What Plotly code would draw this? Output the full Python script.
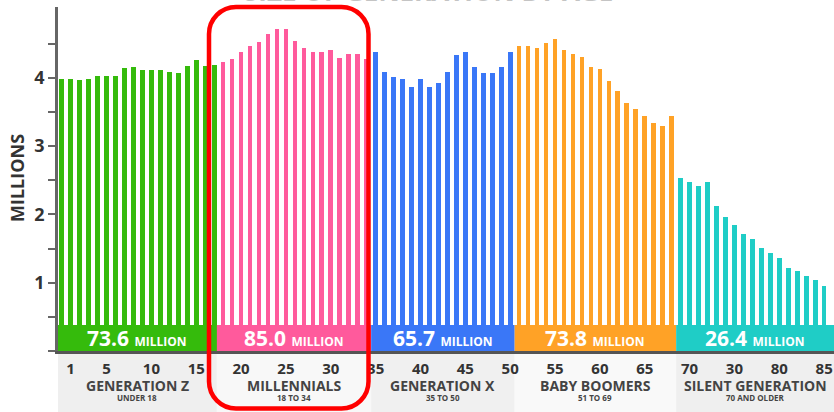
import plotly.graph_objects as go

# ---------------- data ----------------
gen_names = ["GENERATION Z", "MILLENNIALS", "GENERATION X", "BABY BOOMERS", "SILENT GENERATION"]
gen_sub = ["UNDER 18", "18 TO 34", "35 TO 50", "51 TO 69", "70 AND OLDER"]
gen_totals = ["73.6", "85.0", "65.7", "73.8", "26.4"]
gen_colors = ["#35bb0c", "#ff5a9c", "#3a77f7", "#ffa226", "#1fcdc6"]
gen_start_age = [0, 18, 35, 51, 69]

genz = [3.98, 3.98, 3.97, 3.98, 4.02, 4.02, 4.03, 4.14, 4.16, 4.12, 4.12, 4.12, 4.09, 4.07, 4.17, 4.26, 4.17, 4.19]
millennials = [4.23, 4.27, 4.38, 4.46, 4.52, 4.64, 4.72, 4.72, 4.54, 4.43, 4.38, 4.38, 4.41, 4.29, 4.35, 4.35, 4.27]
genx = [4.38, 4.09, 4.01, 3.98, 3.86, 3.98, 3.86, 3.92, 4.09, 4.34, 4.38, 4.16, 4.07, 4.07, 4.16, 4.38]
boomers = [4.47, 4.47, 4.43, 4.51, 4.57, 4.40, 4.35, 4.31, 4.16, 4.13, 3.96, 3.80, 3.63, 3.54, 3.44, 3.34, 3.29, 3.44]
silent = [2.54, 2.47, 2.42, 2.47, 2.13, 1.96, 1.85, 1.72, 1.64, 1.51, 1.44, 1.36, 1.22, 1.17, 1.10, 1.04, 0.95]
series = [genz, millennials, genx, boomers, silent]

x_tickvals = [1, 5, 10, 15, 20, 25, 30, 35, 40, 45, 50, 55, 60, 65, 70, 75, 80, 85]
x_ticktext = ["1", "5", "10", "15", "20", "25", "30", "35", "40", "45", "50", "55", "60", "65", "70", "30", "80", "85"]
y_tickvals = [0, 1, 2, 3, 4]
y_ticktext = ["", "1", "2", "3", "4"]
y_minor = [0.5, 1.5, 2.5, 3.5, 4.5]

# ---------------- layout constants ----------------
W, H = 834, 412
ML, MR, MT, MB = 58, 0, 7, 61
XR = [-0.41, 86.1]
YR = [0, 5.036]
FONT = "Open Sans"
band_top = 0.38

def X(px):
    return (px - ML) / (W - ML - MR)

def Y(py):
    return (H - MB - py) / (H - MT - MB)

fig = go.Figure()
bounds = []
for i, vals in enumerate(series):
    a0 = gen_start_age[i]
    ages = list(range(a0, a0 + len(vals)))
    fig.add_trace(go.Bar(x=ages, y=vals, marker=dict(color=gen_colors[i], line=dict(width=0)),
                         width=0.52, showlegend=False, hoverinfo="x+y"))
    lo = XR[0] if i == 0 else a0 - 0.5
    hi = XR[1] if i == len(series) - 1 else a0 + len(vals) - 0.5
    if i == 1:
        lo = a0 - 0.7
    if i == 0:
        hi = a0 + len(vals) - 0.7
    bounds.append((lo, hi))

shapes = []
annotations = []
grays = ["#efefef", "#f8f8f8", "#f0f0f0", "#f9f9f9", "#efefef"]
for i, (lo, hi) in enumerate(bounds):
    # gray label block below axis
    shapes.append(dict(type="rect", xref="x", yref="paper", x0=lo, x1=hi, y0=Y(H + 2), y1=Y(353),
                       fillcolor=grays[i], line=dict(width=0), layer="below"))
    # coloured total band
    shapes.append(dict(type="rect", xref="x", yref="y", x0=lo, x1=hi, y0=0, y1=band_top,
                       fillcolor=gen_colors[i], line=dict(width=0), layer="above"))
    cx = (lo + hi) / 2
    annotations.append(dict(x=cx, y=band_top / 2, xref="x", yref="y", showarrow=False,
                            text=f"{gen_totals[i]} <span style='font-size:12px'>MILLION</span>",
                            font=dict(family=FONT, size=21, color="white", weight="bold"),
                            xanchor="center", yanchor="middle"))
    annotations.append(dict(x=cx, y=Y(385), xref="x", yref="paper", showarrow=False,
                            text=gen_names[i], font=dict(family=FONT, size=14, color="#444", weight="bold"),
                            xanchor="center", yanchor="middle", borderpad=0))
    annotations.append(dict(x=cx, y=Y(397.5), xref="x", yref="paper", showarrow=False,
                            text=gen_sub[i], font=dict(family=FONT, size=8, color="#444", weight="bold"),
                            xanchor="center", yanchor="middle", borderpad=0))

# y title
annotations.append(dict(x=X(17), y=Y(178), xref="paper", yref="paper", showarrow=False, text="MILLIONS",
                        textangle=-90, font=dict(family=FONT, size=18, color="#333", weight="bold"),
                        xanchor="center", yanchor="middle"))
# title, mostly above the visible area as in the reference
annotations.append(dict(x=X(428), y=Y(-9), xref="paper", yref="paper", showarrow=False,
                        text="SIZE OF GENERATION BY AGE",
                        font=dict(family=FONT, size=26, color="#c4c4c4", weight="bold"),
                        xanchor="center", yanchor="middle"))

# red rounded highlight box (pixel geometry -> paper)
L, R, T, B, r = 209, 368.5, 7, 408.5, 27
k = 0.552 * r
pts = [
    f"M {X(L + r)},{Y(T)}", f"L {X(R - r)},{Y(T)}",
    f"C {X(R - r + k)},{Y(T)} {X(R)},{Y(T + r - k)} {X(R)},{Y(T + r)}",
    f"L {X(R)},{Y(B - r)}",
    f"C {X(R)},{Y(B - r + k)} {X(R - r + k)},{Y(B)} {X(R - r)},{Y(B)}",
    f"L {X(L + r)},{Y(B)}",
    f"C {X(L + r - k)},{Y(B)} {X(L)},{Y(B - r + k)} {X(L)},{Y(B - r)}",
    f"L {X(L)},{Y(T + r)}",
    f"C {X(L)},{Y(T + r - k)} {X(L + r - k)},{Y(T)} {X(L + r)},{Y(T)}", "Z",
]
shapes.append(dict(type="path", xref="paper", yref="paper", path=" ".join(pts),
                   line=dict(color="#ff0000", width=4.5), fillcolor="rgba(0,0,0,0)", layer="above"))

fig.update_layout(
    width=W, height=H, margin=dict(l=ML, r=MR, t=MT, b=MB, pad=0),
    paper_bgcolor="white", plot_bgcolor="white", bargap=0,
    shapes=shapes, annotations=annotations,
    xaxis=dict(range=XR, showgrid=False, zeroline=False, showline=True, linecolor="#555", linewidth=2.5,
               tickvals=x_tickvals, ticktext=x_ticktext, ticks="", ticklabelstandoff=2,
               tickfont=dict(family=FONT, size=15, color="#333", weight="bold"), fixedrange=True),
    yaxis=dict(range=YR, showgrid=False, zeroline=False, showline=True, linecolor="#666", linewidth=2.5,
               tickvals=y_tickvals, ticktext=y_ticktext, ticks="outside", ticklen=7, tickwidth=2,
               tickcolor="#666", tickfont=dict(family=FONT, size=18, color="#333", weight="bold"),
               minor=dict(tickvals=y_minor, ticks="outside", ticklen=7, tickwidth=2, tickcolor="#666"),
               fixedrange=True),
)

fig.write_html("out.html", config={"displayModeBar": False})
